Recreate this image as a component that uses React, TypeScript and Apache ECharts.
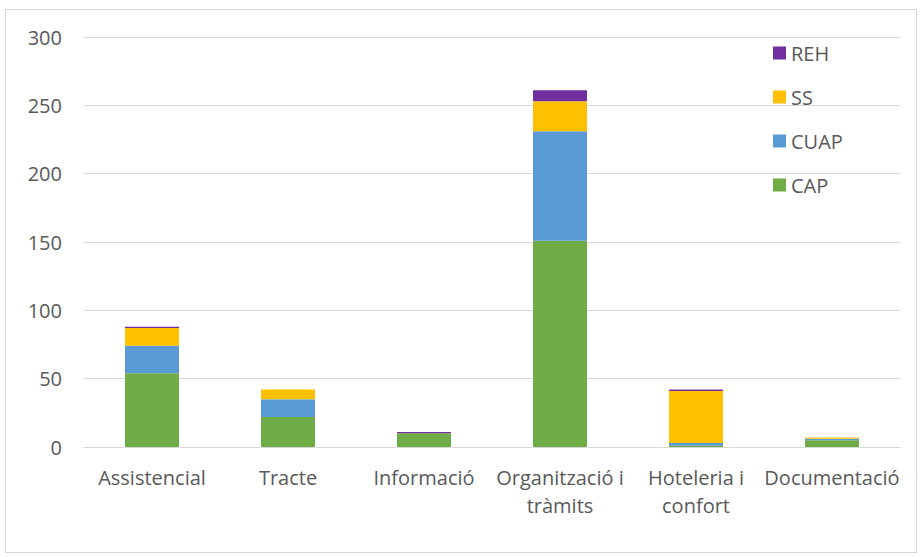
import React, { useEffect, useRef } from "react";
import * as echarts from "echarts";

const categories = ["Assistencial", "Tracte", "Informació", "Organització i\ntràmits", "Hoteleria i\nconfort", "Documentació"];
const capValues = [54, 22, 10, 151, 1, 5];
const cuapValues = [20, 13, 0, 80, 2, 1];
const ssValues = [13, 7, 0, 22, 38, 1];
const rehValues = [1, 0, 1, 8, 1, 0];
const legendOrder = ["REH", "SS", "CUAP", "CAP"];

const FONT = "'Open Sans', sans-serif";

export default function App() {
  const ref = useRef<HTMLDivElement>(null);
  useEffect(() => {
    if (!ref.current) return;
    const chart = echarts.init(ref.current, null, { renderer: "svg" });
    const mk = (name: string, data: number[], color: string) => ({
      name,
      type: "bar",
      stack: "total",
      data,
      barWidth: 54,
      itemStyle: { color },
    });
    chart.setOption({
      animation: false,
      textStyle: { fontFamily: FONT },
      grid: { left: 84, right: 23, top: 37, bottom: 110, containLabel: false },
      legend: {
        data: legendOrder,
        orient: "vertical",
        left: 773,
        top: 43,
        padding: 0,
        itemWidth: 13,
        itemHeight: 13,
        itemGap: 24,
        icon: "rect",
        textStyle: { fontSize: 20, lineHeight: 20, color: "#595959", fontFamily: FONT },
      },
      xAxis: {
        type: "category",
        data: categories,
        axisLine: { lineStyle: { color: "#d9d9d9", width: 1 } },
        axisTick: { show: false },
        axisLabel: { color: "#595959", fontSize: 20, margin: 16, lineHeight: 28, interval: 0, fontFamily: FONT },
      },
      yAxis: {
        type: "value",
        min: 0,
        max: 300,
        interval: 50,
        axisLine: { show: false },
        axisTick: { show: false },
        splitLine: { lineStyle: { color: "#d9d9d9", width: 1 } },
        axisLabel: { color: "#595959", fontSize: 20, margin: 22, fontFamily: FONT },
      },
      series: [
        mk("CAP", capValues, "#70ad47"),
        mk("CUAP", cuapValues, "#5b9bd5"),
        mk("SS", ssValues, "#ffc000"),
        mk("REH", rehValues, "#7030a0"),
      ],
    });
    return () => chart.dispose();
  }, []);
  return (
    <div style={{ position: "fixed", left: 0, top: 0, width: 923, height: 557, background: "#fff" }}>
      <div style={{ position: "absolute", left: 5, top: 9, width: 912, height: 544, border: "1px solid #d9d9d9", boxSizing: "border-box" }} />
      <div ref={ref} style={{ position: "absolute", left: 0, top: 0, width: 923, height: 557 }} />
    </div>
  );
}
